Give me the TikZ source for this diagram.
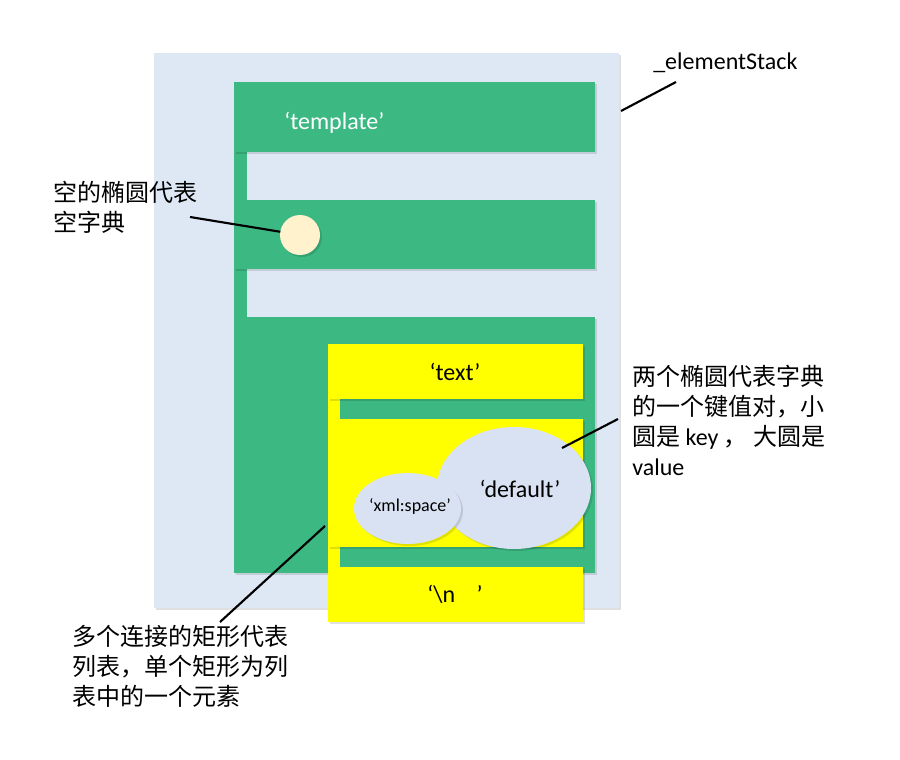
\documentclass[tikz,border=0pt]{standalone}
\usepackage{fontspec}
\setmainfont{Carlito}
\newfontfamily\cjk{Noto Sans CJK SC}
\usetikzlibrary{shadows,shapes.geometric}
\definecolor{bgblue}{HTML}{DDE8F4}
\definecolor{grn}{HTML}{3CB883}
\definecolor{ylw}{HTML}{FFFF00}
\definecolor{cream}{HTML}{FFF2CC}
\definecolor{ell}{HTML}{D9E2F2}
\tikzset{
  blk/.style={inner sep=0pt, outer sep=0pt, draw=none},
  shd/.style={drop shadow={shadow xshift=1.5pt, shadow yshift=-1.5pt, opacity=0.12, fill=black}},
  gbar/.style={blk, fill=grn, minimum width=270.75pt},
  ybar/.style={blk, fill=ylw, minimum width=191.25pt},
  lbl/.style={inner sep=0pt, align=left, font=\fontsize{18pt}{22.5pt}\selectfont},
  inlbl/.style={inner sep=0pt, font=\fontsize{18pt}{22pt}\selectfont},
  conn/.style={line width=1.6pt, black},
}
\begin{document}
\begin{tikzpicture}[x=0.75pt, y=-0.75pt]
\useasboundingbox (0,0) rectangle (900,760);
\fill[white] (0,0) rectangle (900,760);
% background
\node[blk, fill=bgblue, shd, minimum width=348.75pt, minimum height=416.25pt] (bg) at (386.5,330.5) {};
% green list
\node[blk, fill=grn, minimum width=9.75pt, minimum height=36pt] (gs1) at (240.5,176) {};
\node[blk, fill=grn, minimum width=9.75pt, minimum height=36pt] (gs2) at (240.5,293) {};
\node[gbar, shd, minimum height=52.5pt] (g1) at (414.5,117) {};
\node[gbar, shd, minimum height=51.75pt] (g2) at (414.5,234.5) {};
\node[gbar, shd, minimum height=192pt] (g3) at (414.5,445) {};
% yellow list
\node[blk, fill=ylw, minimum width=9pt, minimum height=15pt] (ys1) at (334,409) {};
\node[blk, fill=ylw, minimum width=9pt, minimum height=15pt] (ys2) at (334,557) {};
\node[ybar, shd, minimum height=41.25pt] (y1) at (455.5,371.5) {};
\node[ybar, shd, minimum height=96pt] (y2) at (455.5,483) {};
\node[ybar, shd, minimum height=41.25pt] (y3) at (455.5,594.5) {};
% empty dict
\node[circle, blk, fill=cream, shd, minimum size=30pt] (dot) at (300,235) {};
% key/value ellipses
\node[ellipse, blk, fill=ell, shd, minimum width=115.5pt, minimum height=91.5pt] (bigE) at (514,488) {};
\node[ellipse, blk, fill=ell, shd, minimum width=80.25pt, minimum height=53.25pt] (smallE) at (407.5,508.5) {};
% texts in shapes
\node[inlbl, text=white, anchor=west] (tpl) at (284,123) {‘template’};
\node[inlbl] (txt) at (455,372) {‘text’};
\node[inlbl] (dft) at (520,489) {‘default’};
\node[inner sep=0pt, font=\fontsize{13.5pt}{16pt}\selectfont] (xml) at (410,506) {‘xml:space’};
\node[inlbl] (nl) at (455,594) {‘\textbackslash n\hspace{16pt}’};
% labels
\node[lbl, anchor=west] (lab1) at (53,207) {\cjk 空的椭圆代表\\\cjk 空字典};
\node[inlbl, anchor=west] (lab2) at (653,63) {\_elementStack};
\node[lbl, anchor=west] (lab3) at (632,420) {\cjk 两个椭圆代表字典\\\cjk 的一个键值对，小\\{\cjk 圆是} key {\cjk ，}\ {\cjk 大圆是}\\value};
\node[lbl, anchor=west] (lab4) at (72,666.5) {\cjk 多个连接的矩形代表\\\cjk 列表，单个矩形为列\\\cjk 表中的一个元素};
% connectors
\coordinate (p1) at (190,217);
\coordinate (p2a) at (676,82);
\coordinate (p2b) at (621,111);
\coordinate (p3a) at (618,419);
\coordinate (p3b) at (562,448);
\coordinate (p4a) at (325,526);
\coordinate (p4b) at (220,622);
\draw[conn] (p1) -- (dot);
\draw[conn] (p2a) -- (p2b);
\draw[conn] (p3a) -- (p3b);
\draw[conn] (p4a) -- (p4b);
\end{tikzpicture}
\end{document}
